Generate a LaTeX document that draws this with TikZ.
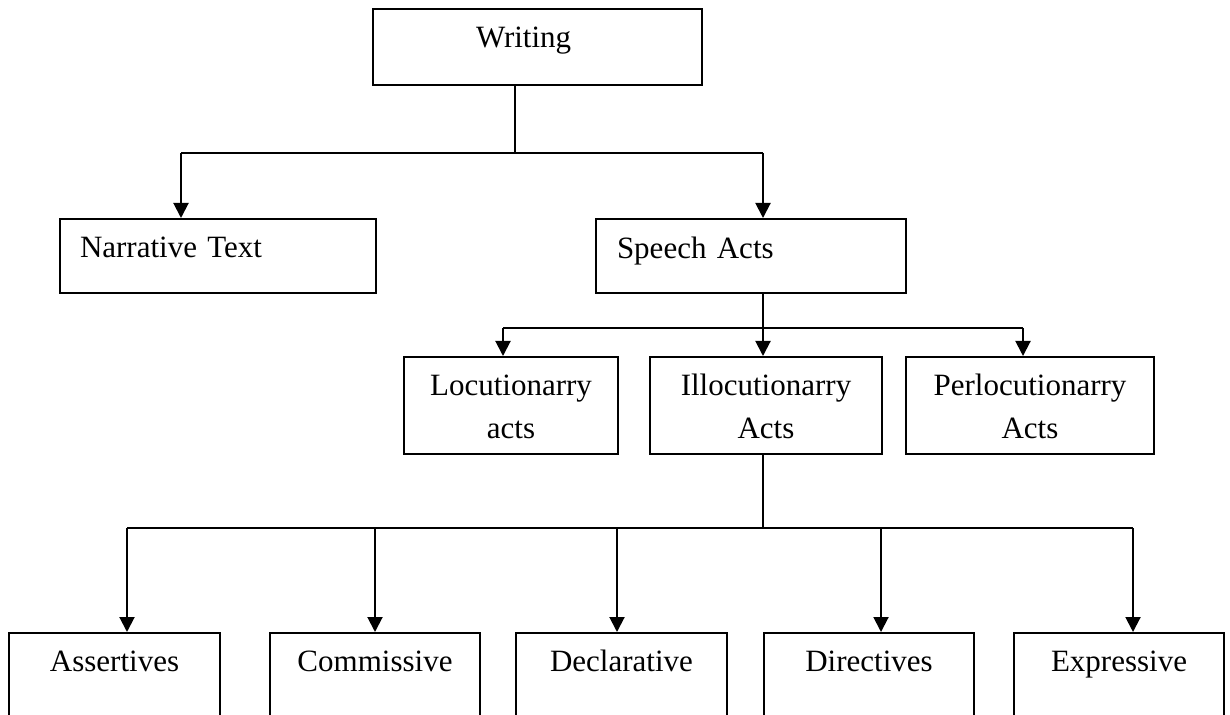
\documentclass[tikz,border=0pt]{standalone}
\usepackage{fontspec}
\setmainfont{Liberation Serif}
\usetikzlibrary{positioning, arrows.meta}

\tikzset{
	box/.style={draw, line width=1pt, anchor=north west, inner sep=0pt, align=center,
		font=\fontsize{15.5}{21.5}\selectfont},
	leftbox/.style={box, align=left},
	link/.style={line width=1pt},
	arrow/.style={link, -{Triangle[length=7.5pt,width=7.5pt]}}
}

\begin{document}
\begin{tikzpicture}[x=0.5pt, y=-0.5pt]
		\clip (0,0) rectangle (1230,715);

		% top level
		\node[leftbox, inner xsep=51.5pt, text width=61.5pt, text height=19.5pt, text depth=18.5pt] (writing) at (372,8) {Writing};
		\node[leftbox, inner xsep=10pt, text width=138pt, text height=19.5pt, text depth=17.5pt] (narr) at (59,218) {Narrative Text};
		\node[leftbox, inner xsep=10.5pt, text width=134pt, text height=20pt, text depth=17pt] (speech) at (595,218) {Speech Acts};

		% speech acts
		\node[box, text width=107pt, text height=19.5pt, text depth=29pt] (locut) at (403,356) {Locutionarry\\acts};
		\node[box, text width=116pt, text height=19.5pt, text depth=29pt] (illoc) at (649,356) {Illocutionarry\\Acts};
		\node[box, text width=124pt, text height=19.5pt, text depth=29pt] (perloc) at (905,356) {Perlocutionarry\\Acts};

		% illocutionary acts
		\node[box, text width=105.5pt, text height=19pt, text depth=40pt] (assert) at (8,632) {Assertives};
		\node[box, text width=105pt, text height=19pt, text depth=40pt] (commis) at (269,632) {Commissive};
		\node[box, text width=105.5pt, text height=19pt, text depth=40pt] (declar) at (515,632) {Declarative};
		\node[box, text width=105pt, text height=19pt, text depth=40pt] (direct) at (763,632) {Directives};
		\node[box, text width=105pt, text height=19pt, text depth=40pt] (express) at (1013,632) {Expressive};

		% writing -> narrative / speech acts
		\coordinate (wj) at (515,153);
		\coordinate (nj) at (181,153);
		\coordinate (sj) at (763,153);
		\draw[link] (writing.south -| wj) -- (wj);
		\draw[link] (nj) -- (sj);
		\draw[arrow] (nj) -- (nj |- narr.north);
		\draw[arrow] (sj) -- (sj |- speech.north);

		% speech acts -> three acts
		\coordinate (mj) at (763,328);
		\coordinate (lj) at (503,328);
		\coordinate (pj) at (1023,328);
		\draw[link] (speech.south -| mj) -- (mj);
		\draw[link] (lj) -- (pj);
		\draw[arrow] (lj) -- (lj |- locut.north);
		\draw[arrow] (mj) -- (mj |- illoc.north);
		\draw[arrow] (pj) -- (pj |- perloc.north);

		% illocutionary -> five kinds
		\coordinate (bj) at (763,528);
		\coordinate (bl) at (127,528);
		\coordinate (br) at (1133,528);
		\draw[link] (illoc.south -| bj) -- (bj);
		\draw[link] (bl) -- (br);
		\foreach \x/\n in {127/assert, 375/commis, 617/declar, 881/direct, 1133/express}
			\draw[arrow] (\x,528) -- (\x,528 |- \n.north);
	\end{tikzpicture}
\end{document}
